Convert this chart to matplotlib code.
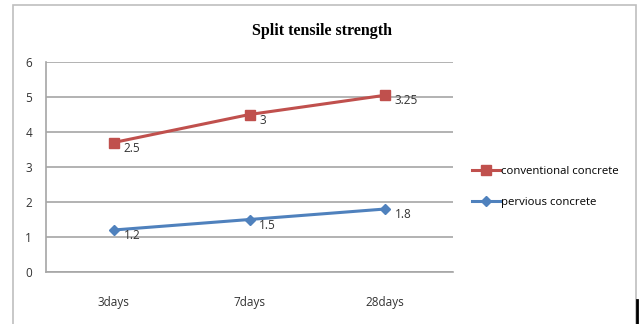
import matplotlib.pyplot as plt
from matplotlib.patches import Rectangle
from matplotlib.lines import Line2D
import numpy as np

# Split tensile strength (MPa) by curing age
dias = ['3days', '7days', '28days']
pervious = [1.2, 1.5, 1.8]
conventional = [2.5, 3, 3.25]

rojo = '#C0504D'
azul = '#4F81BD'
gris = '#A6A6A6'

fig = plt.figure(figsize=(6.39, 3.24), dpi=100)
W, H = 639, 324

# marco exterior del grafico
fig.add_artist(Rectangle((13 / W, -0.05), (636 - 13) / W, 1.05 - 5 / H,
                         transform=fig.transFigure, fill=False,
                         edgecolor='#BFBFBF', lw=1.2))
fig.add_artist(Line2D([637 / W, 637 / W], [0, 24 / H], transform=fig.transFigure,
                      color='black', lw=2))

ax = fig.add_axes([46 / W, 1 - 272 / H, (453 - 46) / W, (272 - 62) / H])
x = np.arange(len(dias))

# linea apilada: la convencional se dibuja sobre la permeable
apilada = np.array(pervious) + np.array(conventional)

l1, = ax.plot(x, apilada, color=rojo, lw=2.2, marker='s', ms=7,
              label='conventional concrete', zorder=3)
l2, = ax.plot(x, pervious, color=azul, lw=2.2, marker='D', ms=5.5,
              label='pervious concrete', zorder=3)

for xi, yi, v in zip(x, apilada, conventional):
    ax.annotate(f'{v:g}', (xi, yi), xytext=(7, -4), textcoords='offset points',
                fontsize=8.5, color='#333333', va='center', family='Open Sans')
for xi, yi, v in zip(x, pervious, pervious):
    ax.annotate(f'{v:g}', (xi, yi), xytext=(7, -4), textcoords='offset points',
                fontsize=8.5, color='#333333', va='center', family='Open Sans')

ax.set_xlim(-0.5, 2.5)
ax.set_ylim(0, 6)
ax.set_yticks(range(7))
ax.set_xticks(x)
ax.set_xticklabels(dias)
ax.grid(axis='y', color=gris, lw=1.2)
ax.set_axisbelow(True)
for s in ['top', 'right']:
    ax.spines[s].set_visible(False)
for s in ['left', 'bottom']:
    ax.spines[s].set_color(gris)
    ax.spines[s].set_linewidth(1.2)
ax.tick_params(length=0, labelsize=8.5, colors='#333333', pad=10)
ax.tick_params(axis='x', pad=17)
for t in ax.get_xticklabels() + ax.get_yticklabels():
    t.set_family('Open Sans')

fig.text(322 / W, 1 - 31 / H, 'Split tensile strength', ha='center', va='center',
         fontsize=11.5, fontweight='bold', family='Liberation Serif')

fig.legend(handles=[l1, l2], loc='upper left', bbox_to_anchor=(462 / W, 1 - 156 / H),
           frameon=False, handlelength=2.4, handletextpad=0.1,
           labelspacing=1.75, prop={'family': 'Open Sans', 'size': 8.2})

fig.savefig('out.png', dpi=100)
